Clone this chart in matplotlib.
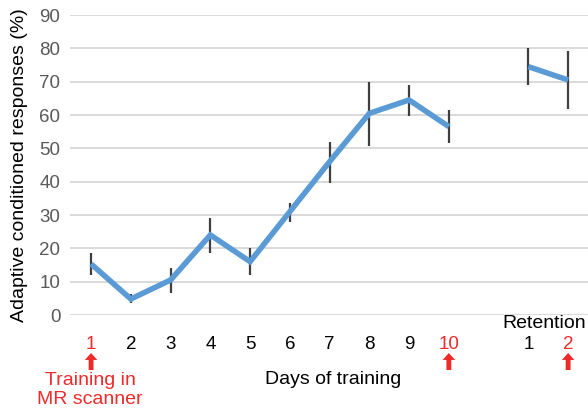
import matplotlib.pyplot as plt

plt.rcParams['font.family'] = ['Liberation Sans', 'DejaVu Sans']

# training days 1-10, then a gap, then retention sessions 1-2
positions = [1, 2, 3, 4, 5, 6, 7, 8, 9, 10, 12, 13]
tick_labels = ['1', '2', '3', '4', '5', '6', '7', '8', '9', '10', '1', '2']
mean_cr = [15.3, 4.8, 10.5, 24.0, 16.0, 31.0, 46.0, 60.5, 64.5, 56.5, 74.5, 70.5]
err_low = [3.3, 1.3, 3.8, 5.3, 4.0, 3.0, 6.3, 9.7, 4.8, 5.0, 5.5, 8.8]
err_high = [3.4, 1.5, 3.5, 5.0, 4.2, 2.5, 6.0, 9.5, 4.5, 5.0, 5.5, 8.8]
red_ticks = [0, 9, 11]

blue = '#5B9BD5'
red = '#EE2A2A'

fig = plt.figure(figsize=(5.88, 4.13), dpi=100)
ax = fig.add_axes([70 / 588, 1 - 315 / 413, 1 - 70 / 588, 300 / 413])

# error bars first so the mean line sits on top
ax.errorbar(positions, mean_cr, yerr=[err_low, err_high], fmt='none',
            ecolor='#3F3F3F', elinewidth=1.6, capsize=0, zorder=2, clip_on=False)

ax.plot(positions[:10], mean_cr[:10], color=blue, lw=4.0, solid_capstyle='butt',
        solid_joinstyle='miter', zorder=3, clip_on=False)
ax.plot(positions[10:], mean_cr[10:], color=blue, lw=4.0, solid_capstyle='butt',
        zorder=3, clip_on=False)

ax.set_xlim(0.47, 13.5)
ax.set_ylim(0, 90)
ax.set_yticks(range(0, 91, 10))
ax.yaxis.grid(True, color='#D9D9D9', lw=1.4)
ax.set_axisbelow(True)
for s in ax.spines.values():
    s.set_visible(False)

ax.set_xticks(positions)
ax.set_xticklabels(tick_labels)
ax.tick_params(axis='x', length=0, pad=15, labelsize=13.5)
ax.tick_params(axis='y', length=0, pad=7, labelsize=13.5, labelcolor='#595959')
for i, lab in enumerate(ax.get_xticklabels()):
    lab.set_color(red if i in red_ticks else 'black')

fig.text(20 / 588, 1 - 165 / 413, 'Adaptive conditioned responses (%)',
         rotation=90, ha='center', va='center', fontsize=14)
fig.text(333 / 588, 1 - 379 / 413, 'Days of training', ha='center', va='center', fontsize=14)
fig.text(586 / 588, 1 - 324 / 413, 'Retention', ha='right', va='center', fontsize=14)
fig.text(90 / 588, 1 - 390 / 413, 'Training in\nMR scanner', ha='center', va='center',
         fontsize=14, color=red, linespacing=1.2)

# red arrows under the scanner sessions
for i in red_ticks:
    ax.annotate('', xy=(positions[i], 1 - 353 / 413), xycoords=('data', 'figure fraction'),
                xytext=(positions[i], 1 - 370 / 413), textcoords=('data', 'figure fraction'),
                arrowprops=dict(arrowstyle='simple,head_width=0.9,head_length=0.5,tail_width=0.35',
                                color=red, lw=0, shrinkA=0, shrinkB=0))

fig.savefig('out.png', dpi=100)
